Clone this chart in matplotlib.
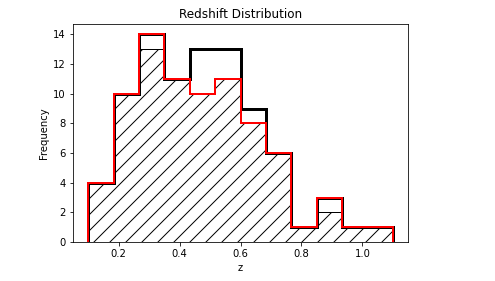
import numpy as np
import matplotlib
matplotlib.use("Agg")
import matplotlib.pyplot as plt

# bin edges (12 bins between z = 0.1 and 1.1)
edges = np.linspace(0.1, 1.1, 13)
centers = (edges[:-1] + edges[1:]) / 2

# counts
all_counts = [4, 10, 14, 11, 13, 13, 9, 6, 1, 3, 1, 1]
sub_counts = [4, 10, 13, 11, 10, 11, 8, 6, 1, 2, 1, 1]
red_counts = [4, 10, 14, 11, 10, 11, 8, 6, 1, 3, 1, 1]

# render at 96 dpi so the hatch spacing matches; shrink point sizes to keep pixel sizes
DPI = 96
s = 72 / DPI
plt.rcParams.update({
    'font.size': 10 * s,
    'axes.linewidth': 0.8 * s,
    'xtick.major.size': 3.5 * s, 'ytick.major.size': 3.5 * s,
    'xtick.major.width': 0.8 * s, 'ytick.major.width': 0.8 * s,
    'xtick.major.pad': 3.5 * s, 'ytick.major.pad': 3.5 * s,
    'axes.titlepad': 6.0 * s, 'axes.labelpad': 4.0 * s,
    'hatch.linewidth': 1.0 * s,
})

fig = plt.figure(figsize=(495/DPI, 281/DPI), dpi=DPI)
ax = fig.add_axes([73/495, 1-242/281, (408-73)/495, (242-24)/281])

ax.hist(centers, bins=edges, weights=sub_counts, histtype='stepfilled',
        facecolor='white', edgecolor='black', hatch='//', linewidth=1 * s)
ax.hist(centers, bins=edges, weights=all_counts, histtype='step',
        color='black', linewidth=3 * s)
ax.hist(centers, bins=edges, weights=red_counts, histtype='step',
        color='red', linewidth=2 * s)

ax.set_title('Redshift Distribution')
ax.set_xlabel('z')
ax.set_ylabel('Frequency')

fig.savefig('out.png', dpi=DPI)
